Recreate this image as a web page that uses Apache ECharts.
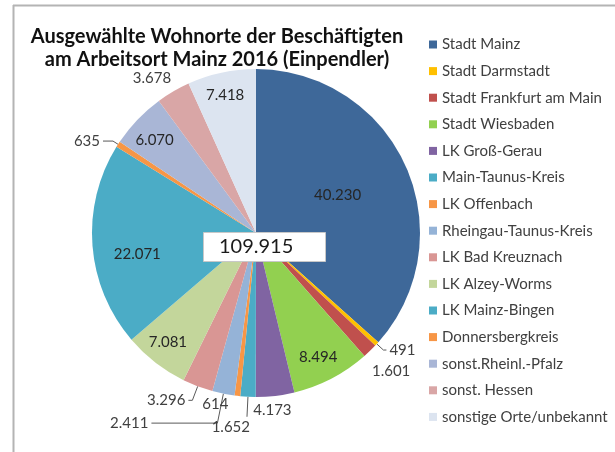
<!DOCTYPE html>
<html>
<head>
<meta charset="utf-8">
<script src="https://cdn.jsdelivr.net/npm/echarts@6/dist/echarts.min.js"></script>
<style>
  html, body { margin: 0; padding: 0; background: #fff; }
  #chart { width: 615px; height: 452px; }
</style>
</head>
<body>
<div id="chart"></div>
<script>
// Wohnorte (Einpendler nach Mainz 2016)
const orte = [
  'Stadt Mainz', 'Stadt Darmstadt', 'Stadt Frankfurt am Main', 'Stadt Wiesbaden',
  'LK Groß-Gerau', 'Main-Taunus-Kreis', 'LK Offenbach', 'Rheingau-Taunus-Kreis',
  'LK Bad Kreuznach', 'LK Alzey-Worms', 'LK Mainz-Bingen', 'Donnersbergkreis',
  'sonst.Rheinl.-Pfalz', 'sonst. Hessen', 'sonstige Orte/unbekannt'
];
const pendler = [
  40230, 491, 1601, 8494, 4173, 1652, 614, 2411, 3296, 7081, 22071, 635, 6070, 3678, 7418
];
const farben = [
  '#3E6899', '#FFC000', '#C0504D', '#92D050', '#8064A2', '#4BACC6', '#F79646', '#95B3D7',
  '#D99694', '#C3D69B', '#4BACC6', '#F79646', '#A9B6D6', '#D9A6A6', '#DCE4F0'
];

const FONT = 'Lato, "Open Sans", sans-serif';
const fmt = v => v.toLocaleString('de-DE');
const gesamt = pendler.reduce((a, b) => a + b, 0);

// label styling per slice: inside / outside with leader / outside without leader
const innen = [0, 3, 9, 10, 12, 14];
const mitLinie = { 1: [9, 3], 11: [6, 10], 8: [15, 4], 5: [20, 0], 7: [30, 66] };
// small shifts to match the placement of the original
const shift = {
  0: [4, -3], 3: [23, 49], 9: [-36, 42], 10: [-34, 15], 12: [-40, -34], 14: [-13, -55],
  2: [-1, 20], 4: [-25, 14], 6: [-6, 8], 13: [1, -13], 5: [6, 10]
};

const daten = pendler.map((v, i) => {
  const item = { name: orte[i], value: v, itemStyle: { color: farben[i] } };
  if (innen.includes(i)) {
    item.label = { position: 'inside', color: '#262626' };
  } else if (mitLinie[i]) {
    item.labelLine = { show: true, length: mitLinie[i][0], length2: mitLinie[i][1] };
  } else {
    item.labelLine = { show: false, length: 0, length2: 0 };
  }
  return item;
});

const chart = echarts.init(document.getElementById('chart'));
chart.setOption({
  animation: false,
  title: [
    {
      text: 'Ausgewählte Wohnorte der Beschäftigten\nam Arbeitsort Mainz 2016 (Einpendler)',
      left: 212,
      top: 20,
      textAlign: 'center',
      textStyle: { fontFamily: FONT, fontSize: 20, fontWeight: 'bold', color: '#111', lineHeight: 23 }
    },
    {
      text: fmt(gesamt),
      left: 203,
      top: 232,
      padding: [5, 32, 5, 16],
      backgroundColor: '#fff',
      borderColor: '#c8c8c8',
      borderWidth: 1,
      textStyle: { fontFamily: FONT, fontSize: 20, fontWeight: 'normal', color: '#1a1a1a', lineHeight: 20 },
      z: 10
    }
  ],
  legend: {
    orient: 'vertical',
    left: 424,
    top: 32,
    icon: 'rect',
    itemWidth: 8,
    itemHeight: 8,
    itemGap: 11.6,
    selectedMode: false,
    textStyle: { fontFamily: FONT, fontSize: 15, color: '#404040', lineHeight: 14 },
    data: orte
  },
  graphic: [
    { type: 'line', shape: { x1: 13, y1: 5.5, x2: 615, y2: 5.5 }, style: { stroke: '#b4b4b4', lineWidth: 2 } },
    { type: 'line', shape: { x1: 13.5, y1: 5, x2: 13.5, y2: 452 }, style: { stroke: '#b4b4b4', lineWidth: 2 } }
  ],
  series: [
    {
      type: 'pie',
      center: [256, 233],
      radius: 164,
      startAngle: 90,
      clockwise: true,
      avoidLabelOverlap: false,
      label: {
        show: true,
        position: 'outside',
        formatter: p => fmt(p.value),
        fontFamily: FONT,
        fontSize: 15,
        color: '#404040',
        distanceToLabelLine: 3
      },
      labelLine: { lineStyle: { color: '#595959', width: 1 } },
      labelLayout: p => {
        const s = shift[p.dataIndex];
        return s ? { dx: s[0], dy: s[1] } : {};
      },
      emphasis: { disabled: true },
      data: daten
    }
  ]
});
</script>
</body>
</html>
